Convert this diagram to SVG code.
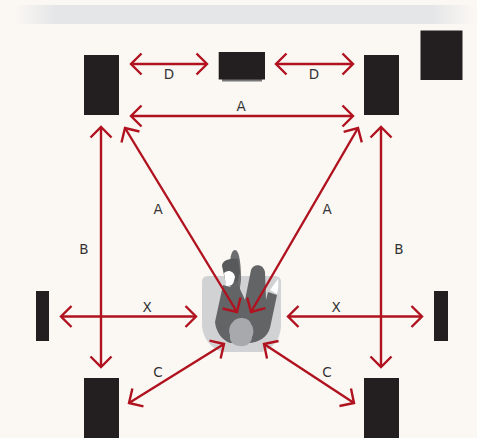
<svg xmlns="http://www.w3.org/2000/svg" width="477" height="438" viewBox="0 0 477 438">
<style>
.sp{fill:#231f20}
.c{fill:none;stroke:#b0121f;stroke-width:2.4;marker-start:url(#h);marker-end:url(#h)}
.t{font-family:"DejaVu Sans","Liberation Sans",sans-serif;font-size:13.5px;fill:#333;text-anchor:middle}
</style>
<defs>
<marker id="h" viewBox="-13 -13 15 26" refX="0" refY="0" markerWidth="15" markerHeight="26" markerUnits="userSpaceOnUse" orient="auto-start-reverse">
<path d="M-10.500 -10.500L0 0L-10.500 10.500" fill="none" stroke="#b0121f" stroke-width="2.400"/>
</marker>
<linearGradient id="w" x1="0" x2="1" y1="0" y2="0">
<stop offset="0" stop-color="#e5e6e8" stop-opacity="0"/><stop offset=".09" stop-color="#e5e6e8"/><stop offset=".91" stop-color="#e5e6e8"/><stop offset="1" stop-color="#e5e6e8" stop-opacity="0"/>
</linearGradient>
</defs>
<rect width="477" height="438" fill="#fbf8f3"/>
<rect x="14" y="5" width="460" height="19" fill="url(#w)"/>
<g id="speaker-fl"><rect class="sp" x="84" y="55" width="35" height="60"/></g>
<g id="screen"><rect x="222" y="76" width="40" height="5.500" fill="#777"/><rect class="sp" x="218.700" y="52" width="46.300" height="27.500"/></g>
<g id="speaker-fr"><rect class="sp" x="364" y="55" width="35" height="60"/></g>
<g id="subwoofer"><rect class="sp" x="420.500" y="30.500" width="42" height="49.500"/></g>
<g id="speaker-sl"><rect class="sp" x="36" y="291" width="13" height="50"/></g>
<g id="speaker-sr"><rect class="sp" x="434" y="291" width="14" height="50"/></g>
<g id="speaker-rl"><rect class="sp" x="84" y="378" width="35" height="60"/></g>
<g id="speaker-rr"><rect class="sp" x="364" y="378" width="35" height="60"/></g>
<g id="listener">
<path d="M202 282Q202 276 208 276H275Q281 276 281 282V326Q280 345 262 352H222Q204 345 202 326Z" fill="#d0d2d4"/>
<path d="M235 250C239 250 241 262 241 280L239 295L232 295L230 265C230 256 232 250 235 250Z" fill="#6d6e70"/>
<path d="M222 266C222 260 230 258 238 259L240 272L236 288L226 284Z" fill="#58595b"/>
<path d="M224 273C228 269 234 271 235 277L233 285L226 286Z" fill="#fff"/>
<path d="M223 285L230 287L236 280L245 300L251 270C253 264 263 263 265 272L266 300L268 292L277 295L270 328C267 338 258 342 250 343H230C222 340 216 332 215 322Z" fill="#636466"/>
<path d="M270 290L278 279C279 284 278 290 277 294Z" fill="#fff"/>
<path d="M241 318C246 318 250 320 251 324C254 328 254 334 252 337C252 343 246 347 240 346C234 346 229 342 230 335C228 330 230 324 233 322C235 319 238 318 241 318Z" fill="#a7a9ac"/>
</g>
<g id="connectors">
<path class="c" d="M131 64H207"/>
<path class="c" d="M276 64H353"/>
<path class="c" d="M131 116H353"/>
<path class="c" d="M125 128L237 312"/>
<path class="c" d="M358 128L251 312"/>
<path class="c" d="M101 127V367"/>
<path class="c" d="M381 127V367"/>
<path class="c" d="M61 316.500H196"/>
<path class="c" d="M288 316.500H422"/>
<path class="c" d="M129 403L224 344"/>
<path class="c" d="M354 403L264 344"/>
</g>
<g id="labels">
<text class="t" x="169" y="79">D</text>
<text class="t" x="314" y="79">D</text>
<text class="t" x="241" y="111">A</text>
<text class="t" x="158" y="214">A</text>
<text class="t" x="327" y="214">A</text>
<text class="t" x="84" y="254">B</text>
<text class="t" x="399" y="254">B</text>
<text class="t" x="147" y="312">X</text>
<text class="t" x="336" y="312">X</text>
<text class="t" x="158" y="377">C</text>
<text class="t" x="327" y="377">C</text>
</g>
</svg>
